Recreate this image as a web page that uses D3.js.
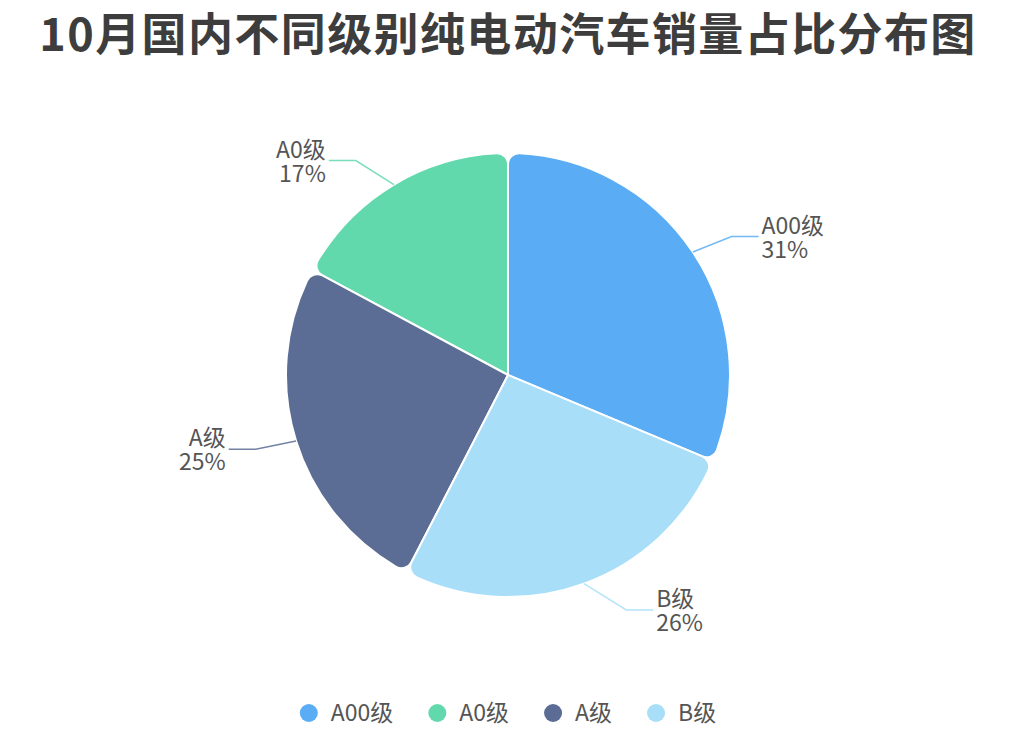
<!DOCTYPE html>
<html>
<head>
<meta charset="utf-8">
<script src="https://cdn.jsdelivr.net/npm/d3@7/dist/d3.min.js"></script>
<style>
  body { margin: 0; background: #fff; }
  svg { display: block; font-family: "Noto Sans CJK SC", "Noto Sans", sans-serif; }
</style>
</head>
<body>
<div id="chart"></div>
<script>
var categories = ['A00级', 'A0级', 'A级', 'B级'];
var shares = [31, 17, 25, 26];
var colors = ['#5aadf5', '#62d9ad', '#5b6c95', '#a8def8'];

var width = 1016;
var height = 736;
var cx = 508, cy = 375, radius = 222;

var svg = d3.select('#chart')
    .append('svg')
    .attr('width', width)
    .attr('height', height);

svg.append('text')
    .attr('x', width / 2)
    .attr('y', 51)
    .attr('text-anchor', 'middle')
    .attr('font-size', 45)
    .attr('font-weight', 'bold')
    .attr('letter-spacing', 1.4)
    .attr('fill', '#3d3d3d')
    .text('10月国内不同级别纯电动汽车销量占比分布图');

var data = categories.map((c, i) => ({ name: c, value: shares[i], color: colors[i] }));
var total = d3.sum(shares);

// sorted descending like the original: A00, B, A, A0 clockwise
var pie = d3.pie().value((d) => d.value).sort((a, b) => b.value - a.value);
var arcs = pie(data);

var arc = d3.arc()
    .innerRadius(0)
    .outerRadius(radius)
    .cornerRadius(11);

var g = svg.append('g').attr('transform', 'translate(' + cx + ',' + cy + ')');

g.selectAll('path')
    .data(arcs)
    .enter()
    .append('path')
    .attr('d', arc)
    .attr('fill', (d) => d.data.color)
    .attr('stroke', '#fff')
    .attr('stroke-width', 2);

// label lines: elbow y from a short radial step, x pushed out onto a wider circle
var stepR = radius + 28;
var elbowR = radius + 41;
var tail = 27;

var labels = g.selectAll('g.label')
    .data(arcs)
    .enter()
    .append('g')
    .attr('class', 'label');

labels.each(function (d) {
    var mid = (d.startAngle + d.endAngle) / 2;
    var sx = Math.sin(mid), sy = -Math.cos(mid);
    var right = sx > 0;
    var p0 = [sx * radius, sy * radius];
    var ey = sy * stepR;
    var ex = (right ? 1 : -1) * Math.sqrt(elbowR * elbowR - ey * ey);
    var p1 = [ex, ey];
    var p2 = [ex + (right ? tail : -tail), ey];
    var sel = d3.select(this);
    sel.append('polyline')
        .attr('points', [p0, p1, p2].map((p) => p.join(',')).join(' '))
        .attr('fill', 'none')
        .attr('stroke', d.data.color)
        .attr('stroke-width', 1.5)
        .attr('opacity', 0.85);
    var tx = p2[0] + (right ? 3 : -3);
    var txt = sel.append('text')
        .attr('text-anchor', right ? 'start' : 'end')
        .attr('font-size', 23)
        .attr('fill', '#555');
    txt.append('tspan')
        .attr('x', tx)
        .attr('y', p2[1] - 3)
        .text(d.data.name);
    txt.append('tspan')
        .attr('x', tx)
        .attr('y', p2[1] + 21)
        .text(Math.round(d.data.value / total * 100) + '%');
});

// legend, laid out left to right and centred
var legend = svg.append('g').attr('transform', 'translate(0,713)');
var items = legend.selectAll('g')
    .data(data)
    .enter()
    .append('g');

items.append('circle')
    .attr('r', 9)
    .attr('fill', (d) => d.color);

items.append('text')
    .attr('x', 22)
    .attr('y', 8)
    .attr('font-size', 23)
    .attr('fill', '#555')
    .text((d) => d.name);

var xPos = 0;
items.each(function () {
    var w = this.querySelector('text').getComputedTextLength();
    d3.select(this).attr('transform', 'translate(' + xPos + ',0)');
    xPos += 22 + w + 44;
});
var legendWidth = xPos - 44 + 9;
legend.attr('transform', 'translate(' + (width / 2 - legendWidth / 2 + 9) + ',713)');
</script>
</body>
</html>
